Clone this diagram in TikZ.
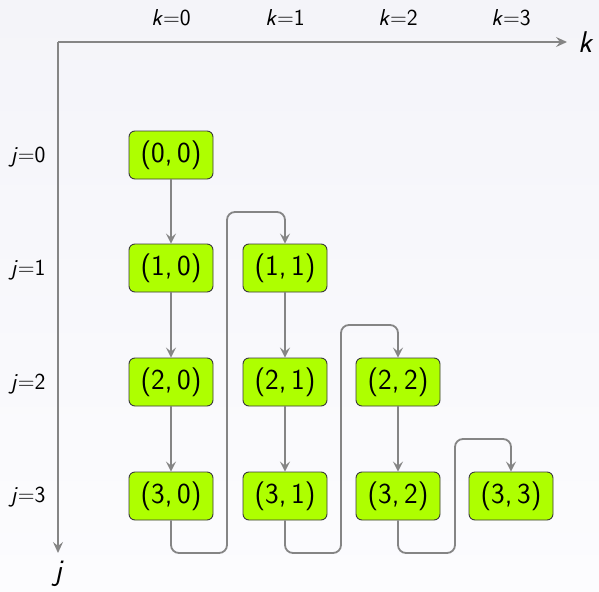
\documentclass[tikz,border=0pt]{standalone}
\usepackage{fontspec}
\usetikzlibrary{arrows.meta}
\definecolor{bgtop}{HTML}{F4F4F9}
\definecolor{bgbot}{HTML}{FCFCFE}
\definecolor{lime}{HTML}{AEFF00}
\definecolor{conngray}{HTML}{858585}
\definecolor{boxline}{HTML}{3A3A3A}
\tikzset{
  cell/.style={draw=boxline, line width=0.9pt, fill=lime, rounded corners=6pt,
    minimum width=84pt, minimum height=48pt, inner sep=0pt,
    font=\sffamily\fontsize{29}{32}\selectfont},
  conn/.style={draw=conngray, line width=1.8pt, rounded corners=8pt,
    -{Stealth[length=10pt,width=10pt,inset=4pt]}},
  axis/.style={draw=conngray, line width=1.8pt,
    -{Stealth[length=11pt,width=10pt,inset=4pt]}},
  ticklbl/.style={font=\sffamily\fontsize{23}{26}\selectfont, inner sep=0pt},
  axlbl/.style={font=\sffamily\itshape\fontsize{30}{32}\selectfont, inner sep=0pt}
}
\newcommand{\cellt}[2]{(#1,\,#2)}
\begin{document}
\begin{tikzpicture}[x=1pt,y=-1pt]
\useasboundingbox (0,0) rectangle (599,591);
\shade[top color=bgtop, bottom color=bgbot] (0,0) rectangle (599,591);
% axes
\coordinate (O) at (58,42);
\coordinate (kend) at (567,42);
\coordinate (jend) at (58,553);
\draw[axis] (O) -- (kend);
\draw[axis] (O) -- (jend);
\node[axlbl] (klbl) at (585,42) {k};
\node[axlbl] (jlbl) at (58,574) {j};
% tick labels
\node[ticklbl] (k0) at (171,18) {\textit{k}=0};
\node[ticklbl] (k1) at (285,18) {\textit{k}=1};
\node[ticklbl] (k2) at (398,18) {\textit{k}=2};
\node[ticklbl] (k3) at (511,18) {\textit{k}=3};
\node[ticklbl] (j0) at (28,157) {\textit{j}=0};
\node[ticklbl] (j1) at (28,270) {\textit{j}=1};
\node[ticklbl] (j2) at (28,384) {\textit{j}=2};
\node[ticklbl] (j3) at (28,497) {\textit{j}=3};
% cells
\node[cell] (n00) at (171,155) {\cellt{0}{0}};
\node[cell] (n10) at (171,268) {\cellt{1}{0}};
\node[cell] (n20) at (171,382) {\cellt{2}{0}};
\node[cell] (n30) at (171,496) {\cellt{3}{0}};
\node[cell] (n11) at (285,268) {\cellt{1}{1}};
\node[cell] (n21) at (285,382) {\cellt{2}{1}};
\node[cell] (n31) at (285,496) {\cellt{3}{1}};
\node[cell] (n22) at (398,382) {\cellt{2}{2}};
\node[cell] (n32) at (398,496) {\cellt{3}{2}};
\node[cell] (n33) at (511,496) {\cellt{3}{3}};
% vertical connectors
\draw[conn] (n00) -- (n10);
\draw[conn] (n10) -- (n20);
\draw[conn] (n20) -- (n30);
\draw[conn] (n11) -- (n21);
\draw[conn] (n21) -- (n31);
\draw[conn] (n22) -- (n32);
% snake connectors
\coordinate (b1) at (227,553);
\coordinate (t1) at (227,212);
\coordinate (b2) at (341,553);
\coordinate (t2) at (341,325);
\coordinate (b3) at (455,553);
\coordinate (t3) at (455,439);
\draw[conn] (n30.south) |- (b1) -- (t1) -| (n11.north);
\draw[conn] (n31.south) |- (b2) -- (t2) -| (n22.north);
\draw[conn] (n32.south) |- (b3) -- (t3) -| (n33.north);
\end{tikzpicture}
\end{document}
